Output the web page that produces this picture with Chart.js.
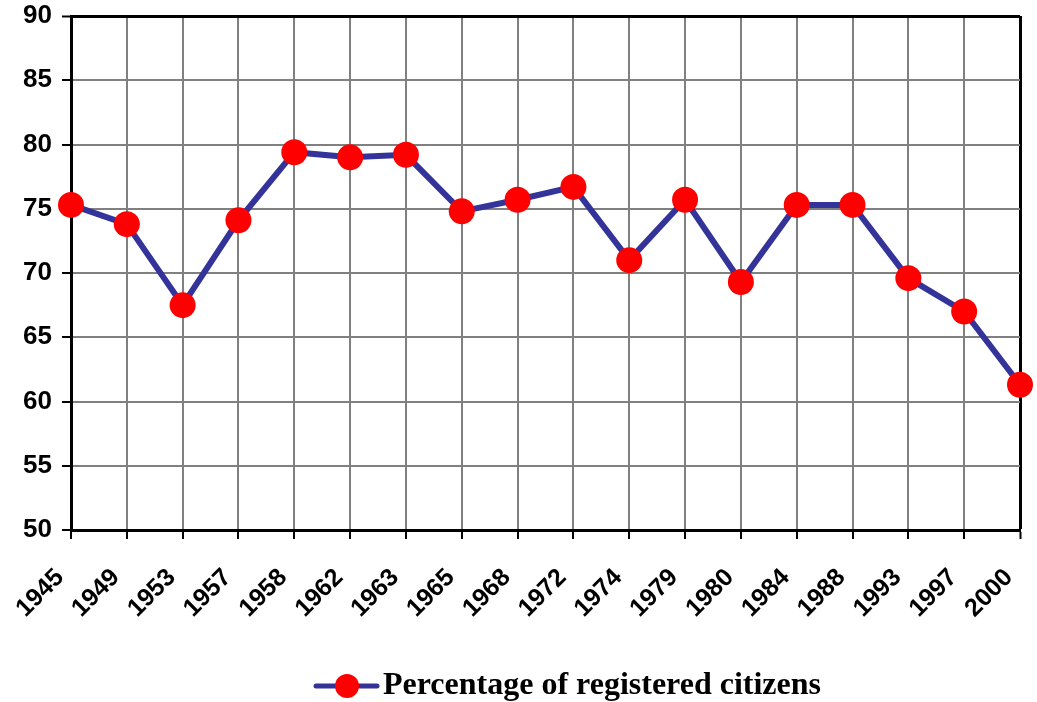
<!DOCTYPE html>
<html>
<head>
<meta charset="utf-8">
<script src="https://cdn.jsdelivr.net/npm/chart.js@4"></script>
<style>
  html, body { margin: 0; padding: 0; background: #fff; }
  #wrap { width: 1037px; height: 702px; }
</style>
</head>
<body>
<div id="wrap"><canvas id="grafik" width="1037" height="702"></canvas></div>
<script>
const tahun = ["1945", "1949", "1953", "1957", "1958", "1962", "1963", "1965", "1968",
  "1972", "1974", "1979", "1980", "1984", "1988", "1993", "1997", "2000"];
const persen = [75.3, 73.8, 67.5, 74.1, 79.4, 79.0, 79.2, 74.8, 75.7,
  76.7, 71.0, 75.7, 69.3, 75.3, 75.3, 69.6, 67.0, 61.3];
const namaSeri = "Percentage of registered citizens";

// simbol legenda: garis biru dengan titik merah (kanvas lebar, isi digeser ke kanan)
const simbol = document.createElement("canvas");
simbol.width = 200;
simbol.height = 28;
const sc = simbol.getContext("2d");
sc.strokeStyle = "#333399";
sc.lineWidth = 5;
sc.lineCap = "round";
sc.beginPath();
sc.moveTo(133, 14);
sc.lineTo(194, 14);
sc.stroke();
sc.fillStyle = "#ff0000";
sc.beginPath();
sc.arc(164, 14, 12, 0, Math.PI * 2);
sc.fill();

const ctx = document.getElementById("grafik").getContext("2d");
new Chart(ctx, {
  type: "line",
  data: {
    labels: tahun,
    datasets: [
      {
        label: namaSeri,
        data: persen,
        borderColor: "#333399",
        borderWidth: 6,
        pointRadius: 13,
        pointHoverRadius: 13,
        pointBackgroundColor: "#ff0000",
        pointBorderColor: "#ff0000",
        pointBorderWidth: 0,
        tension: 0,
        fill: false,
      },
    ],
  },
  options: {
    responsive: false,
    animation: false,
    layout: { padding: { left: 0, right: 17, top: 16, bottom: -10 } },
    plugins: {
      tooltip: { enabled: false },
      legend: {
        position: "bottom",
        labels: {
          usePointStyle: true,
          pointStyleWidth: 168,
          color: "#000",
          font: { family: "'Liberation Serif', 'Times New Roman', serif", size: 32, weight: "bold" },
          padding: 2,
          generateLabels: (chart) => [
            { text: namaSeri, pointStyle: simbol, fillStyle: "#ff0000", strokeStyle: "#333399", lineWidth: 0, datasetIndex: 0 },
          ],
        },
      },
    },
    scales: {
      x: {
        offset: false,
        afterFit: (scale) => {
          scale.height = 138;
          scale.paddingLeft = 0;
          scale.paddingRight = 0;
        },
        grid: {
          color: (c) => (c.index === tahun.length - 1 ? "#000" : "#808080"),
          lineWidth: (c) => (c.index === tahun.length - 1 ? 3 : 2),
          tickColor: "#000",
          tickWidth: 2,
          tickLength: 9,
        },
        border: { color: "#000", width: 3 },
        ticks: {
          color: "#000",
          minRotation: 45,
          maxRotation: 45,
          padding: 24,
          labelOffset: -11,
          font: { family: "'Liberation Sans', Arial, sans-serif", size: 25, weight: "bold" },
        },
      },
      y: {
        min: 50,
        max: 90,
        afterFit: (scale) => {
          scale.width = 71;
          scale.paddingTop = 0;
          scale.paddingBottom = 0;
        },
        grid: {
          color: (c) => (c.tick && c.tick.value === 90 ? "#000" : "#808080"),
          lineWidth: (c) => (c.tick && c.tick.value === 90 ? 3 : 2),
          tickColor: "#000",
          tickWidth: 2,
          tickLength: 9,
        },
        border: { color: "#000", width: 3 },
        ticks: {
          stepSize: 5,
          color: "#000",
          padding: 10,
          font: { family: "'Liberation Sans', Arial, sans-serif", size: 26, weight: "bold" },
        },
      },
    },
  },
});
</script>
</body>
</html>
